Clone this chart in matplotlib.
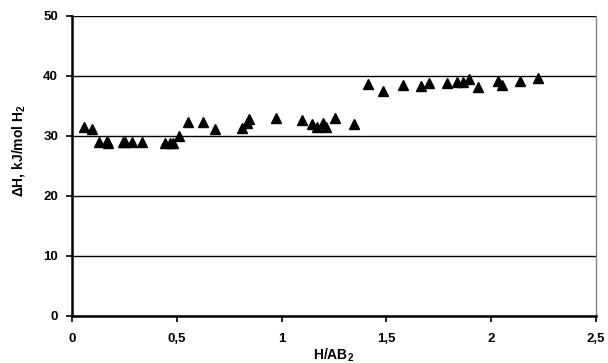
import numpy as np
import matplotlib.pyplot as plt

plt.rcParams["font.family"] = "Liberation Sans"
plt.rcParams["font.weight"] = "bold"
plt.rcParams["mathtext.fontset"] = "custom"
plt.rcParams["mathtext.rm"] = "Liberation Sans:bold"
plt.rcParams["mathtext.it"] = "Liberation Sans:bold"
plt.rcParams["mathtext.bf"] = "Liberation Sans:bold"

# --- data ---
h_ab2 = [0.057, 0.095, 0.130, 0.166, 0.170, 0.242, 0.254, 0.286, 0.334, 0.442,
         0.468, 0.480, 0.510, 0.553, 0.624, 0.682, 0.811, 0.834, 0.845, 0.975,
         1.096, 1.146, 1.167, 1.196, 1.212, 1.255, 1.345, 1.414, 1.485, 1.581,
         1.665, 1.702, 1.788, 1.838, 1.864, 1.896, 1.937, 2.034, 2.050, 2.139,
         2.222]
dH = [31.5, 31.2, 29.05, 29.1, 28.8, 29.05, 29.0, 29.05, 28.95, 28.8,
      28.8, 28.8, 30.05, 32.3, 32.3, 31.2, 31.4, 32.1, 32.8, 32.95,
      32.6, 32.05, 31.45, 32.1, 31.45, 32.95, 32.05, 38.6, 37.45, 38.5,
      38.4, 38.9, 38.9, 39.0, 39.0, 39.45, 38.2, 39.2, 38.55, 39.2,
      39.6]

x_ticks = [0, 0.5, 1, 1.5, 2, 2.5]
x_labels = ["0", "0,5", "1", "1,5", "2", "2,5"]
y_ticks = [0, 10, 20, 30, 40, 50]

fig = plt.figure(figsize=(6.08, 3.63), dpi=100)
ax = fig.add_axes([72 / 608, 47 / 363, 524 / 608, 300 / 363])

ax.plot(h_ab2, dH, "k^", ms=6.5, zorder=3, clip_on=False)

ax.set_xlim(0, 2.5)
ax.set_ylim(0, 50)
ax.set_xticks(x_ticks)
ax.set_xticklabels(x_labels)
ax.set_yticks(y_ticks)
ax.yaxis.grid(True, color="black", lw=1.0)
ax.set_axisbelow(True)

ax.spines["left"].set_linewidth(1.8)
ax.spines["bottom"].set_linewidth(1.8)
ax.spines["top"].set_visible(False)
ax.spines["right"].set_color("#808080")
ax.spines["right"].set_linewidth(1.0)

ax.tick_params(axis="both", direction="out", length=4.5, width=1.2, labelsize=9.5, pad=5.5)
ax.tick_params(axis="x", pad=8)

ax.set_xlabel(r"H/AB$_2$", fontsize=10, fontweight="bold", labelpad=1)
ax.set_ylabel(r"ΔH, kJ/mol H$_2$", fontsize=10, fontweight="bold")
ax.yaxis.set_label_coords(-0.086, 0.55)

fig.savefig("out.png", dpi=100)
